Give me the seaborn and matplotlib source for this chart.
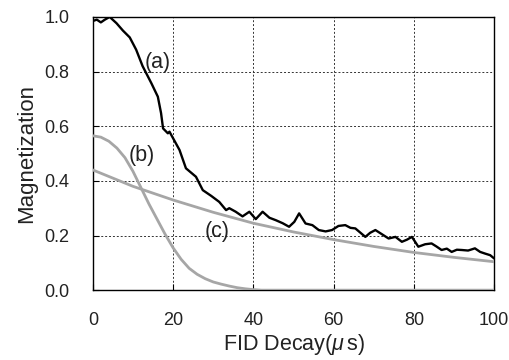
import numpy as np
import pandas as pd
import matplotlib
matplotlib.use("Agg")
import matplotlib.pyplot as plt
import seaborn as sns

# Curve (a): measured FID (black, noisy)
a_t = [0, 1, 2, 3, 4.2, 5.9, 7.5, 9.2, 10.8, 12.4, 14.6, 16.2, 17.0, 17.5, 18.7, 19.1, 21.6, 23.2,
       25.7, 27.4, 29.5, 31.5, 33.2, 34.0, 35.6, 37.3, 39.0, 40.6, 42.3, 44.0, 45.6, 47.3, 48.9,
       50.2, 51.4, 53.0, 54.7, 56.3, 58.0, 59.6, 61.2, 62.9, 64.2, 65.4, 67.9, 69.1, 70.4, 72.0,
       73.7, 75.4, 77.0, 78.3, 79.5, 81.1, 82.8, 84.4, 85.6, 86.9, 88.2, 89.4, 90.7, 91.9, 93.5,
       95.2, 96.5, 97.7, 99.0, 100]
a_m = [0.985, 0.99, 0.98, 0.99, 1.0, 0.977, 0.95, 0.925, 0.88, 0.82, 0.757, 0.708, 0.648, 0.592,
       0.574, 0.58, 0.513, 0.446, 0.415, 0.366, 0.345, 0.323, 0.293, 0.30, 0.287, 0.27, 0.287,
       0.26, 0.287, 0.265, 0.256, 0.245, 0.232, 0.25, 0.281, 0.244, 0.238, 0.22, 0.215, 0.22,
       0.235, 0.238, 0.228, 0.226, 0.195, 0.21, 0.22, 0.205, 0.189, 0.195, 0.177, 0.185, 0.195,
       0.159, 0.168, 0.171, 0.16, 0.147, 0.152, 0.14, 0.148, 0.147, 0.145, 0.153, 0.14, 0.134,
       0.128, 0.116]

# Curve (b): gaussian-like component (gray)
b_t = [0, 2, 4, 6, 8, 10, 12, 14, 16, 18, 20, 22, 24, 26, 28, 30, 32, 34, 36, 38, 40, 42, 100]
b_m = [0.565, 0.56, 0.545, 0.52, 0.485, 0.435, 0.375, 0.315, 0.26, 0.205, 0.155, 0.113, 0.08,
       0.058, 0.042, 0.03, 0.022, 0.015, 0.009, 0.005, 0.002, 0.0, 0.0]

# Curve (c): exponential-like component (gray)
c_t = [0, 10, 20, 30, 40, 50, 60, 70, 80, 90, 100]
c_m = [0.44, 0.38, 0.33, 0.285, 0.245, 0.213, 0.185, 0.16, 0.138, 0.12, 0.104]

labels = ["(a)", "(b)", "(c)"]
label_x = [16.1, 12.1, 31.0]
label_y = [0.835, 0.494, 0.213]

x_ticks = [0, 20, 40, 60, 80, 100]
y_ticks = [0.0, 0.2, 0.4, 0.6, 0.8, 1.0]

sns.set_style("ticks")
plt.rcParams["font.family"] = ["Liberation Sans", "DejaVu Sans"]
plt.rcParams["mathtext.fontset"] = "custom"
plt.rcParams["mathtext.it"] = "Liberation Sans:italic"
plt.rcParams["mathtext.rm"] = "Liberation Sans"

fig = plt.figure(figsize=(5.1, 3.6), dpi=100)
ax = fig.add_axes([0.182, 0.194, 0.787, 0.759])

gray = "#a6a6a6"
df_b = pd.DataFrame({"t": b_t, "m": b_m})
df_c = pd.DataFrame({"t": c_t, "m": c_m})
df_a = pd.DataFrame({"t": a_t, "m": a_m})
sns.lineplot(data=df_b, x="t", y="m", ax=ax, color=gray, lw=2.0, zorder=3)
sns.lineplot(data=df_c, x="t", y="m", ax=ax, color=gray, lw=2.0, zorder=3)
sns.lineplot(data=df_a, x="t", y="m", ax=ax, color="black", lw=1.7, zorder=4)

for lab, lx, ly in zip(labels, label_x, label_y):
    ax.text(lx, ly, lab, fontsize=15.5, ha="center", va="center", color="#222222", zorder=5)

ax.set_xlim(0, 100)
ax.set_ylim(0, 1.0)
ax.set_xticks(x_ticks)
ax.set_yticks(y_ticks)
ax.set_yticklabels([f"{v:.1f}" for v in y_ticks])
ax.grid(True, linestyle=(0, (2, 2)), color="#333333", lw=0.7)
ax.tick_params(direction="in", length=4, labelsize=13, color="black", labelcolor="#222222")
ax.tick_params(axis="x", pad=16)
ax.tick_params(axis="y", pad=17)
for s in ax.spines.values():
    s.set_color("black")
    s.set_linewidth(1.0)
ax.set_xlabel("FID Decay($\\mu\\,$s)", fontsize=15.5, labelpad=2, color="#222222")
ax.set_ylabel("Magnetization", fontsize=16, labelpad=5, color="#222222")

fig.savefig("out.png", dpi=100)
